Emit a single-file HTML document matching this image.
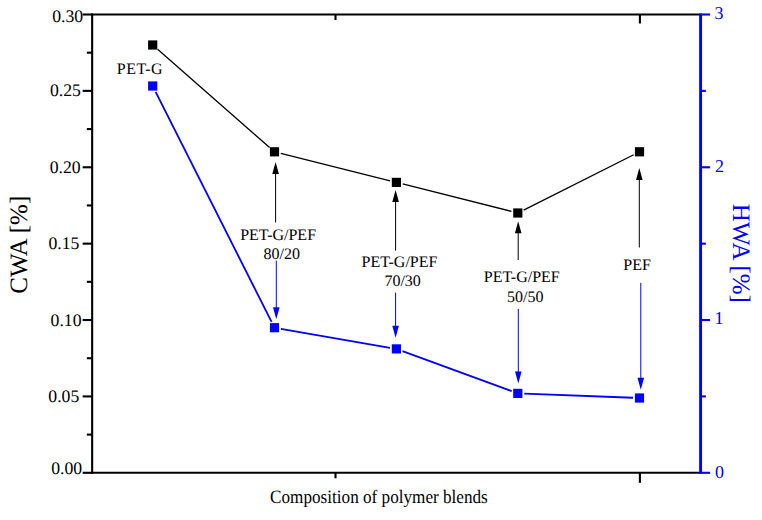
<!DOCTYPE html>
<html><head><meta charset="utf-8"><style>
html,body{margin:0;padding:0;background:#fff;width:762px;height:520px;overflow:hidden;}
svg{display:block;} text{text-rendering:geometricPrecision;}
</style></head><body>
<svg width="762" height="520" viewBox="0 0 762 520"><g stroke="#000" stroke-width="2.1" fill="none" stroke-linecap="butt"><line x1="92.15" y1="13.45" x2="92.15" y2="473.85"/><line x1="91.10000000000001" y1="14.5" x2="700.6" y2="14.5"/><line x1="91.10000000000001" y1="472.8" x2="700.6" y2="472.8"/><line x1="82.65" y1="472.80" x2="92.15" y2="472.80"/><line x1="82.65" y1="396.42" x2="92.15" y2="396.42"/><line x1="82.65" y1="320.03" x2="92.15" y2="320.03"/><line x1="82.65" y1="243.65" x2="92.15" y2="243.65"/><line x1="82.65" y1="167.27" x2="92.15" y2="167.27"/><line x1="82.65" y1="90.88" x2="92.15" y2="90.88"/><line x1="82.65" y1="14.50" x2="92.15" y2="14.50"/><line x1="86.85000000000001" y1="434.61" x2="92.15" y2="434.61"/><line x1="86.85000000000001" y1="358.22" x2="92.15" y2="358.22"/><line x1="86.85000000000001" y1="281.84" x2="92.15" y2="281.84"/><line x1="86.85000000000001" y1="205.46" x2="92.15" y2="205.46"/><line x1="86.85000000000001" y1="129.07" x2="92.15" y2="129.07"/><line x1="86.85000000000001" y1="52.69" x2="92.15" y2="52.69"/><line x1="639.9" y1="472.8" x2="639.9" y2="482.8"/><line x1="335.5" y1="472.8" x2="335.5" y2="478.3"/><line x1="639.9" y1="14.5" x2="639.9" y2="23.5"/><line x1="335.5" y1="14.5" x2="335.5" y2="20.0"/></g><g stroke="#0000ff" stroke-width="2.9" fill="none"><line x1="700.6" y1="13.45" x2="700.6" y2="473.85"/></g><g stroke="#0000ff" stroke-width="2.1" fill="none"><line x1="700.6" y1="472.80" x2="710.1" y2="472.80"/><line x1="700.6" y1="320.03" x2="710.1" y2="320.03"/><line x1="700.6" y1="167.27" x2="710.1" y2="167.27"/><line x1="700.6" y1="14.50" x2="710.1" y2="14.50"/><line x1="700.6" y1="396.42" x2="705.9" y2="396.42"/><line x1="700.6" y1="243.65" x2="705.9" y2="243.65"/><line x1="700.6" y1="90.88" x2="705.9" y2="90.88"/></g><line x1="157.59" y1="49.29" x2="269.61" y2="147.51" stroke="#000" stroke-width="1.3"/><line x1="280.80" y1="153.38" x2="390.10" y2="180.82" stroke="#000" stroke-width="1.3"/><line x1="402.70" y1="183.99" x2="511.50" y2="211.41" stroke="#000" stroke-width="1.3"/><line x1="523.61" y1="210.08" x2="633.69" y2="154.72" stroke="#000" stroke-width="1.3"/><line x1="155.63" y1="91.80" x2="271.57" y2="321.90" stroke="#0000ff" stroke-width="1.8"/><line x1="280.90" y1="328.81" x2="390.00" y2="347.79" stroke="#0000ff" stroke-width="1.8"/><line x1="402.50" y1="351.14" x2="511.70" y2="391.16" stroke="#0000ff" stroke-width="1.8"/><line x1="524.30" y1="393.65" x2="633.00" y2="397.75" stroke="#0000ff" stroke-width="1.8"/><rect x="148.10" y="40.40" width="9.2" height="9.2" fill="#000"/><rect x="269.90" y="147.20" width="9.2" height="9.2" fill="#000"/><rect x="391.80" y="177.80" width="9.2" height="9.2" fill="#000"/><rect x="513.20" y="208.40" width="9.2" height="9.2" fill="#000"/><rect x="634.90" y="147.20" width="9.2" height="9.2" fill="#000"/><rect x="148.10" y="81.40" width="9.2" height="9.2" fill="#0000ff"/><rect x="269.90" y="323.10" width="9.2" height="9.2" fill="#0000ff"/><rect x="391.80" y="344.30" width="9.2" height="9.2" fill="#0000ff"/><rect x="513.20" y="388.80" width="9.2" height="9.2" fill="#0000ff"/><rect x="634.90" y="393.40" width="9.2" height="9.2" fill="#0000ff"/><line x1="275.6" y1="222.5" x2="275.6" y2="172.9" stroke="#000" stroke-width="1.0"/><path d="M275.6,161.9 L278.90000000000003,173.9 L272.3,173.9 Z" fill="#000"/><line x1="276.3" y1="260.6" x2="276.3" y2="308.2" stroke="#0000ff" stroke-width="1.0"/><path d="M276.3,319.2 L279.6,307.2 L273.0,307.2 Z" fill="#0000ff"/><line x1="395.6" y1="250.6" x2="395.6" y2="201.0" stroke="#000" stroke-width="1.0"/><path d="M395.6,190.0 L398.90000000000003,202.0 L392.3,202.0 Z" fill="#000"/><line x1="395.6" y1="292.6" x2="395.6" y2="326.7" stroke="#0000ff" stroke-width="1.0"/><path d="M395.6,337.7 L398.90000000000003,325.7 L392.3,325.7 Z" fill="#0000ff"/><line x1="518.2" y1="260.0" x2="518.2" y2="232.2" stroke="#000" stroke-width="1.0"/><path d="M518.2,221.2 L521.5,233.2 L514.9000000000001,233.2 Z" fill="#000"/><line x1="518.3" y1="308.9" x2="518.3" y2="372.4" stroke="#0000ff" stroke-width="1.0"/><path d="M518.3,383.4 L521.5999999999999,371.4 L515.0,371.4 Z" fill="#0000ff"/><line x1="639.3" y1="247.5" x2="639.3" y2="179.1" stroke="#000" stroke-width="1.0"/><path d="M639.3,168.1 L642.5999999999999,180.1 L636.0,180.1 Z" fill="#000"/><line x1="640.8" y1="282.8" x2="640.8" y2="378.7" stroke="#0000ff" stroke-width="1.0"/><path d="M640.8,389.7 L644.0999999999999,377.7 L637.5,377.7 Z" fill="#0000ff"/><text id="t030" transform="translate(67.61,16.03)" font-family="Liberation Serif" font-size="17.7" fill="#000" text-anchor="middle" y="6.02">0.30</text><text id="t025" transform="translate(65.45,90.26)" font-family="Liberation Serif" font-size="17.7" fill="#000" text-anchor="middle" y="6.02">0.25</text><text id="t020" transform="translate(65.12,167.29)" font-family="Liberation Serif" font-size="17.7" fill="#000" text-anchor="middle" y="6.02">0.20</text><text id="t015" transform="translate(63.96,243.30)" font-family="Liberation Serif" font-size="17.7" fill="#000" text-anchor="middle" y="6.02">0.15</text><text id="t010" transform="translate(66.03,320.12)" font-family="Liberation Serif" font-size="17.7" fill="#000" text-anchor="middle" y="6.02">0.10</text><text id="t005" transform="translate(63.80,395.84)" font-family="Liberation Serif" font-size="17.7" fill="#000" text-anchor="middle" y="6.02">0.05</text><text id="t000" transform="translate(66.61,467.61)" font-family="Liberation Serif" font-size="17.7" fill="#000" text-anchor="middle" y="6.02">0.00</text><text id="r3" transform="translate(718.95,12.84)" font-family="Liberation Serif" font-size="18" fill="#0000ff" text-anchor="middle" y="6.12">3</text><text id="r2" transform="translate(719.38,165.88)" font-family="Liberation Serif" font-size="18" fill="#0000ff" text-anchor="middle" y="6.12">2</text><text id="r1" transform="translate(718.98,318.29)" font-family="Liberation Serif" font-size="18" fill="#0000ff" text-anchor="middle" y="6.12">1</text><text id="r0" transform="translate(719.38,471.40)" font-family="Liberation Serif" font-size="18" fill="#0000ff" text-anchor="middle" y="6.12">0</text><text id="lpetg" letter-spacing="0.45" transform="translate(139.88,68.60)" font-family="Liberation Serif" font-size="16" fill="#000" text-anchor="middle" y="5.44">PET-G</text><text id="l1a" transform="translate(278.10,234.85)" font-family="Liberation Serif" font-size="16" fill="#000" text-anchor="middle" y="5.44">PET-G/PEF</text><text id="l1b" transform="translate(281.73,253.26)" font-family="Liberation Serif" font-size="16" fill="#000" text-anchor="middle" y="5.44">80/20</text><text id="l2a" transform="translate(399.50,261.23)" font-family="Liberation Serif" font-size="16" fill="#000" text-anchor="middle" y="5.44">PET-G/PEF</text><text id="l2b" transform="translate(402.63,281.00)" font-family="Liberation Serif" font-size="16" fill="#000" text-anchor="middle" y="5.44">70/30</text><text id="l3a" transform="translate(521.77,276.44)" font-family="Liberation Serif" font-size="16" fill="#000" text-anchor="middle" y="5.44">PET-G/PEF</text><text id="l3b" transform="translate(525.20,296.52)" font-family="Liberation Serif" font-size="16" fill="#000" text-anchor="middle" y="5.44">50/50</text><text id="l4" transform="translate(637.10,264.83)" font-family="Liberation Serif" font-size="16" fill="#000" text-anchor="middle" y="5.44">PEF</text><text id="cwa" transform="translate(18.68,244.74) rotate(-90)" font-family="Liberation Serif" font-size="25" fill="#000" text-anchor="middle" y="8.50">CWA [%]</text><text id="hwa" transform="translate(741.74,253.31) rotate(90)" font-family="Liberation Serif" font-size="25" fill="#0000ff" text-anchor="middle" y="8.50">HWA [%]</text><text id="xt" transform="translate(378.94,496.92) scale(0.9025,1)" font-family="Liberation Serif" font-size="19" fill="#000" text-anchor="middle" y="6.46">Composition of polymer blends</text></svg>
</body></html>
